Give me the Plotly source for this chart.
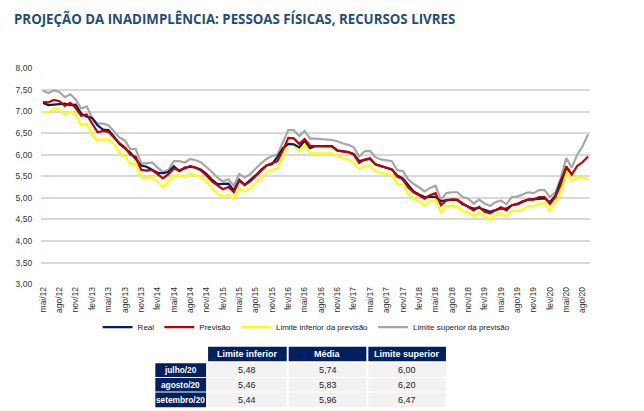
import plotly.graph_objects as go

# Meses de mai/12 a set/20
MESES_PT = ['jan', 'fev', 'mar', 'abr', 'mai', 'jun', 'jul', 'ago', 'set', 'out', 'nov', 'dez']
meses = []
for k in range(101):
    m = (4 + k) % 12
    a = 12 + (4 + k) // 12
    meses.append(MESES_PT[m] + '/' + str(a))

real = [7.20, 7.15, 7.16, 7.17, 7.18, 7.15, 7.16, 6.95, 6.88, 6.85,
        6.68, 6.58, 6.57, 6.42, 6.25, 6.15, 6.05, 5.90, 5.75, 5.72,
        5.65, 5.58, 5.57, 5.60, 5.73, 5.62, 5.70, 5.72, 5.70, 5.65,
        5.55, 5.42, 5.32, 5.33, 5.33, 5.17, 5.42, 5.30, 5.40, 5.52,
        5.65, 5.75, 5.78, 5.95, 6.15, 6.25, 6.24, 6.17, 6.32, 6.15,
        6.20, 6.20, 6.20, 6.20, 6.10, 6.08, 6.06, 6.02, 5.85, 5.88,
        5.90, 5.78, 5.74, 5.70, 5.66, 5.52, 5.45, 5.30, 5.15, 5.08,
        5.02, 5.03, 5.02, 4.92, 4.95, 4.96, 4.95, 4.85, 4.80, 4.75,
        4.77, 4.72, 4.68, 4.72, 4.75, 4.75, 4.83, 4.86, 4.92, 4.96,
        4.97, 4.98, 4.99, 4.90, 5.05, 5.40, 5.70, 5.55, None, None,
        None]

previsao = [7.22, 7.21, 7.27, 7.24, 7.13, 7.20, 7.08, 6.90, 6.93, 6.72,
            6.52, 6.55, 6.53, 6.40, 6.27, 6.17, 6.00, 5.95, 5.65, 5.63,
            5.65, 5.55, 5.45, 5.55, 5.68, 5.64, 5.68, 5.74, 5.70, 5.63,
            5.52, 5.38, 5.28, 5.20, 5.25, 5.13, 5.40, 5.30, 5.38, 5.50,
            5.62, 5.75, 5.80, 5.85, 6.10, 6.39, 6.38, 6.25, 6.36, 6.20,
            6.20, 6.20, 6.20, 6.19, 6.09, 6.07, 6.06, 6.00, 5.81, 5.89,
            5.92, 5.77, 5.73, 5.70, 5.66, 5.49, 5.43, 5.24, 5.13, 5.06,
            4.98, 5.06, 5.11, 4.83, 4.94, 4.96, 4.96, 4.87, 4.79, 4.71,
            4.79, 4.68, 4.64, 4.71, 4.78, 4.71, 4.83, 4.85, 4.90, 4.96,
            4.96, 5.02, 5.02, 4.86, 5.02, 5.32, 5.73, 5.54, 5.74, 5.83,
            5.96]

lim_inf = [6.98, 6.98, 7.07, 7.05, 6.92, 7.00, 6.92, 6.68, 6.72, 6.45,
           6.32, 6.36, 6.35, 6.25, 6.05, 5.98, 5.78, 5.80, 5.47, 5.45,
           5.48, 5.38, 5.25, 5.38, 5.52, 5.52, 5.48, 5.57, 5.52, 5.47,
           5.38, 5.22, 5.10, 5.03, 5.08, 4.97, 5.22, 5.15, 5.22, 5.33,
           5.45, 5.58, 5.65, 5.68, 5.95, 6.23, 6.23, 6.08, 6.22, 6.03,
           6.03, 6.03, 6.03, 6.03, 5.98, 5.92, 5.89, 5.81, 5.66, 5.74,
           5.74, 5.62, 5.58, 5.55, 5.53, 5.32, 5.31, 5.09, 4.98, 4.92,
           4.83, 4.92, 4.96, 4.66, 4.81, 4.82, 4.81, 4.69, 4.66, 4.57,
           4.66, 4.57, 4.49, 4.60, 4.64, 4.57, 4.70, 4.70, 4.73, 4.81,
           4.81, 4.87, 4.88, 4.70, 4.90, 5.11, 5.62, 5.39, 5.48, 5.46,
           5.44]

lim_sup = [7.48, 7.43, 7.49, 7.45, 7.33, 7.40, 7.28, 7.07, 7.12, 6.85,
           6.72, 6.72, 6.68, 6.55, 6.40, 6.33, 6.13, 6.13, 5.80, 5.80,
           5.82, 5.70, 5.60, 5.65, 5.85, 5.85, 5.82, 5.90, 5.87, 5.82,
           5.72, 5.60, 5.47, 5.38, 5.43, 5.28, 5.55, 5.47, 5.55, 5.68,
           5.80, 5.90, 5.97, 6.00, 6.30, 6.57, 6.57, 6.43, 6.55, 6.37,
           6.37, 6.36, 6.36, 6.34, 6.31, 6.26, 6.23, 6.17, 5.96, 6.08,
           6.09, 5.94, 5.89, 5.87, 5.85, 5.64, 5.62, 5.43, 5.32, 5.24,
           5.15, 5.23, 5.28, 4.96, 5.11, 5.13, 5.13, 5.02, 4.98, 4.87,
           4.96, 4.87, 4.81, 4.90, 4.94, 4.85, 5.02, 5.03, 5.08, 5.13,
           5.11, 5.18, 5.18, 5.02, 5.13, 5.47, 5.92, 5.70, 6.00, 6.20,
           6.47]

# Tabela
tab_meses = ['julho/20', 'agosto/20', 'setembro/20']
tab_cols = ['Limite inferior', 'Média', 'Limite superior']
tab_inf = ['5,48', '5,46', '5,44']
tab_media = ['5,74', '5,83', '5,96']
tab_sup = ['6,00', '6,20', '6,47']

W, H = 644, 411
OFF = 8  # body margin of the page shifts everything by 8px
NAVY = '#002060'
CELL = '#F2F2F2'
FONT = 'Liberation Sans'


def px_x(x):
    return (x - OFF) / W


def px_y(y):
    return (H - (y - OFF)) / H


fig = go.Figure()

series = [
    ('Real', real, '#002060'),
    ('Previsão', previsao, '#C00000'),
    ('Limite inferior da previsão', lim_inf, '#FFFF00'),
    ('Limite superior da previsão', lim_sup, '#A6A6A6'),
]
nomes = [s[0] for s in series]
# gray and yellow drawn below, red and navy on top
for nome, vals, cor in [series[2], series[3], series[0], series[1]]:
    fig.add_trace(go.Scatter(x=meses, y=vals, mode='lines', name=nome,
                             line=dict(color=cor, width=2.2),
                             legendrank=nomes.index(nome)))

# table drawn with shapes + annotations (screen pixel edges)
col_x = [(153, 204), (206, 285), (287, 365), (367, 445)]
row_y = [(350, 365), (367, 381), (382, 396), (397, 412)]
shapes = []
annots = []


def cell(c, r, txt, fill, color, bold, size=9):
    x0, x1 = col_x[c]
    y0, y1 = row_y[r]
    if fill:
        shapes.append(dict(type='rect', xref='paper', yref='paper',
                           x0=px_x(x0), x1=px_x(x1), y0=px_y(y1), y1=px_y(y0),
                           fillcolor=fill, line=dict(width=0), layer='below'))
    if txt:
        annots.append(dict(xref='paper', yref='paper', x=px_x((x0 + x1) / 2), y=px_y((y0 + y1) / 2),
                           text='<b>' + txt + '</b>' if bold else txt, showarrow=False,
                           xanchor='center', yanchor='middle',
                           font=dict(family=FONT, size=size, color=color)))


for j, nome in enumerate(tab_cols):
    cell(j + 1, 0, nome, NAVY, 'white', True)
for i, mes in enumerate(tab_meses):
    cell(0, i + 1, mes, NAVY, 'white', True, size=8.3)
    for j, col in enumerate([tab_inf, tab_media, tab_sup]):
        cell(j + 1, i + 1, col[i], CELL, '#222', False)

fig.update_layout(
    width=W, height=H,
    margin=dict(l=0, r=0, t=0, b=0),
    paper_bgcolor='white', plot_bgcolor='white',
    font=dict(family=FONT, size=9, color='#333'),
    title=dict(text='<b>PROJEÇÃO DA INADIMPLÊNCIA: PESSOAS FÍSICAS, RECURSOS LIVRES</b>',
               x=px_x(14), y=px_y(19), xanchor='left', yanchor='middle', pad=dict(l=0, t=0),
               font=dict(family='Open Sans', size=13.3, color='#1F4E79')),
    xaxis=dict(domain=[px_x(38), px_x(590)], type='category', tickangle=-90,
               tickvals=meses[::3], ticktext=meses[::3],
               showgrid=False, showline=False, ticks='', tickfont=dict(size=8.5, color='#333'),
               range=[-0.4, 100.4]),
    yaxis=dict(domain=[px_y(286), px_y(64.7)], range=[3, 8], dtick=0.5,
               tickformat='.2f', showgrid=True, gridcolor='#D9D9D9',
               gridwidth=1.5, zeroline=False, ticks='outside', ticklen=6,
               tickcolor='rgba(0,0,0,0)', tickfont=dict(size=8.5, color='#333')),
    separators=',.',
    legend=dict(orientation='h', x=px_x(305), xanchor='center', y=px_y(330), yanchor='middle',
                font=dict(size=8, color='#222'), itemwidth=30, tracegroupgap=0),
    showlegend=True,
    shapes=shapes,
    annotations=annots,
)

fig.write_html('out.html')
